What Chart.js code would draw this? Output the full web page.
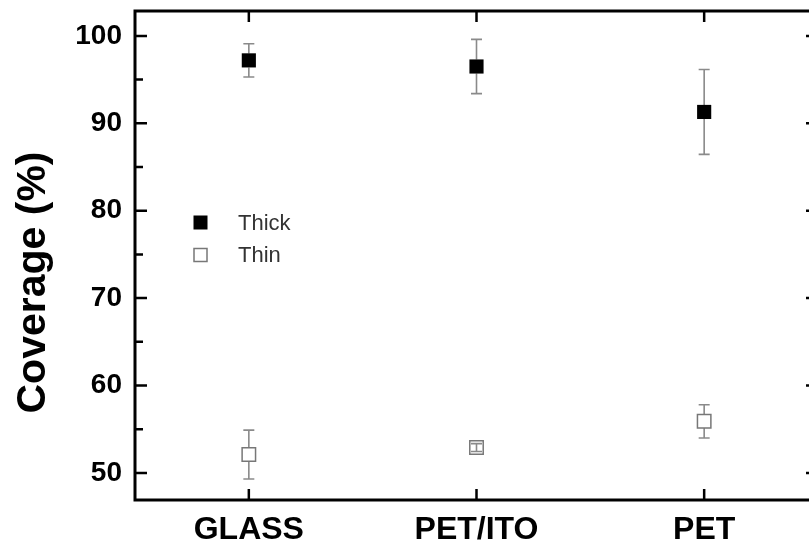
<!DOCTYPE html>
<html>
<head>
<meta charset="utf-8">
<script src="https://cdn.jsdelivr.net/npm/chart.js@4/dist/chart.umd.min.js"></script>
<style>
  html, body { margin: 0; padding: 0; background: #fff; overflow: hidden; }
  #wrap { width: 809px; height: 542px; overflow: hidden; position: relative; }
  canvas { display: block; }
</style>
</head>
<body>
<div id="wrap"><canvas id="c" width="830" height="542"></canvas></div>
<script>
// ---- data ----
const categories = ['GLASS', 'PET/ITO', 'PET'];
const thickValues = [97.2, 96.5, 91.3];
const thickErrors = [1.9, 3.1, 4.85];
const thinValues = [52.1, 52.9, 55.9];
const thinErrors = [2.8, 0.45, 1.9];
const yTickLabels = [50, 60, 70, 80, 90, 100];
const yMinorTicks = [55, 65, 75, 85, 95];
const seriesNames = ['Thick', 'Thin'];
const yTitle = 'Coverage (%)';

function toPoints(vals) { return vals.map((v, i) => ({ x: i + 1, y: v })); }

const FRAME_W = 3;

function zeroPad(s) { s.paddingTop = 0; s.paddingBottom = 0; s.paddingLeft = 0; s.paddingRight = 0; }

const framePlugin = {
  id: 'framePlugin',
  beforeDatasetsDraw(chart) {
    const ctx = chart.ctx;
    const xs = chart.scales.x, ys = chart.scales.y;
    ctx.save();
    ctx.strokeStyle = '#8a8a8a';
    ctx.lineWidth = 1.6;
    chart.data.datasets.forEach(ds => {
      const half = ds.markerHalf;
      ds.data.forEach((p, i) => {
        const e = ds.errors[i];
        const px = xs.getPixelForValue(p.x);
        const py = ys.getPixelForValue(p.y);
        const top = ys.getPixelForValue(p.y + e);
        const bot = ys.getPixelForValue(p.y - e);
        ctx.beginPath();
        if (py - top > half) {
          ctx.moveTo(px, top); ctx.lineTo(px, py - half);
          ctx.moveTo(px, py + half); ctx.lineTo(px, bot);
        } else {
          ctx.moveTo(px, top); ctx.lineTo(px, bot);
        }
        ctx.moveTo(px - 5.5, top); ctx.lineTo(px + 5.5, top);
        ctx.moveTo(px - 5.5, bot); ctx.lineTo(px + 5.5, bot);
        ctx.stroke();
      });
    });
    ctx.restore();
  },
  afterDraw(chart) {
    const ctx = chart.ctx;
    const a = chart.chartArea;
    const xs = chart.scales.x, ys = chart.scales.y;
    ctx.save();
    ctx.strokeStyle = '#000';
    ctx.lineWidth = FRAME_W;
    ctx.strokeRect(a.left, a.top, a.right - a.left, a.bottom - a.top);
    ctx.lineWidth = 2.5;
    ctx.beginPath();
    yTickLabels.forEach(v => {
      const y = ys.getPixelForValue(v);
      ctx.moveTo(a.left, y); ctx.lineTo(a.left + 12, y);
      ctx.moveTo(a.right, y); ctx.lineTo(a.right - 12, y);
    });
    yMinorTicks.forEach(v => {
      const y = ys.getPixelForValue(v);
      ctx.moveTo(a.left, y); ctx.lineTo(a.left + 8, y);
      ctx.moveTo(a.right, y); ctx.lineTo(a.right - 8, y);
    });
    categories.forEach((c, i) => {
      const x = xs.getPixelForValue(i + 1);
      ctx.moveTo(x, a.top); ctx.lineTo(x, a.top + 11);
      ctx.moveTo(x, a.bottom); ctx.lineTo(x, a.bottom - 11);
    });
    ctx.stroke();

    // y title
    ctx.fillStyle = '#000';
    ctx.font = 'bold 41px "Liberation Sans", Arial, sans-serif';
    ctx.textAlign = 'center';
    ctx.textBaseline = 'alphabetic';
    ctx.translate(45, (a.top + a.bottom) / 2 + 27);
    ctx.rotate(-Math.PI / 2);
    ctx.fillText(yTitle, 0, 0);
    ctx.restore();

    // legend
    ctx.save();
    const lx = 200.5;
    const rows = [222.5, 255];
    chart.data.datasets.forEach((ds, i) => {
      const y = rows[i];
      const s = ds.legendSize;
      if (ds.filled) {
        ctx.fillStyle = '#000';
        ctx.fillRect(lx - s / 2, y - s / 2, s, s);
      } else {
        ctx.fillStyle = '#fff';
        ctx.strokeStyle = '#777';
        ctx.lineWidth = 1.5;
        ctx.fillRect(lx - s / 2, y - s / 2, s, s);
        ctx.strokeRect(lx - s / 2, y - s / 2, s, s);
      }
      ctx.fillStyle = '#333';
      ctx.font = '22px "Liberation Sans", Arial, sans-serif';
      ctx.textAlign = 'left';
      ctx.textBaseline = 'middle';
      ctx.fillText(ds.label, 238, y + 1);
    });
    ctx.restore();
  }
};

new Chart(document.getElementById('c'), {
  type: 'scatter',
  data: {
    datasets: [
      {
        label: seriesNames[0],
        data: toPoints(thickValues),
        errors: thickErrors,
        markerHalf: 7,
        legendSize: 14,
        filled: true,
        pointStyle: 'rect',
        pointRadius: 10,
        backgroundColor: '#000',
        borderColor: '#000',
        borderWidth: 0,
        showLine: false
      },
      {
        label: seriesNames[1],
        data: toPoints(thinValues),
        errors: thinErrors,
        markerHalf: 6.7,
        legendSize: 13,
        filled: false,
        pointStyle: 'rect',
        pointRadius: 9.5,
        backgroundColor: 'rgba(255,255,255,0)',
        borderColor: '#777',
        borderWidth: 1.5,
        showLine: false
      }
    ]
  },
  options: {
    responsive: false,
    animation: false,
    devicePixelRatio: 1,
    layout: { padding: { top: 10, right: 12, bottom: 0, left: 0 } },
    plugins: { legend: { display: false }, tooltip: { enabled: false } },
    scales: {
      x: {
        type: 'linear',
        min: 0.5,
        max: 3.5,
        afterBuildTicks: s => { s.ticks = categories.map((c, i) => ({ value: i + 1 })); },
        afterFit: s => { s.height = 42; zeroPad(s); },
        grid: { display: false, drawTicks: false },
        border: { display: false },
        ticks: {
          autoSkip: false,
          maxRotation: 0,
          padding: 11,
          color: '#000',
          font: { family: '"Liberation Sans", Arial, sans-serif', size: 32, weight: 'bold' },
          callback: v => categories[Math.round(v) - 1] || ''
        }
      },
      y: {
        type: 'linear',
        min: 46.9,
        max: 102.85,
        afterBuildTicks: s => { s.ticks = yTickLabels.map(v => ({ value: v })); },
        afterFit: s => { s.width = 135; zeroPad(s); },
        grid: { display: false, drawTicks: false },
        border: { display: false },
        ticks: {
          autoSkip: false,
          padding: 13,
          color: '#000',
          font: { family: '"Liberation Sans", Arial, sans-serif', size: 28, weight: 'bold' },
          callback: v => String(v)
        }
      }
    }
  },
  plugins: [framePlugin]
});
</script>
</body>
</html>
